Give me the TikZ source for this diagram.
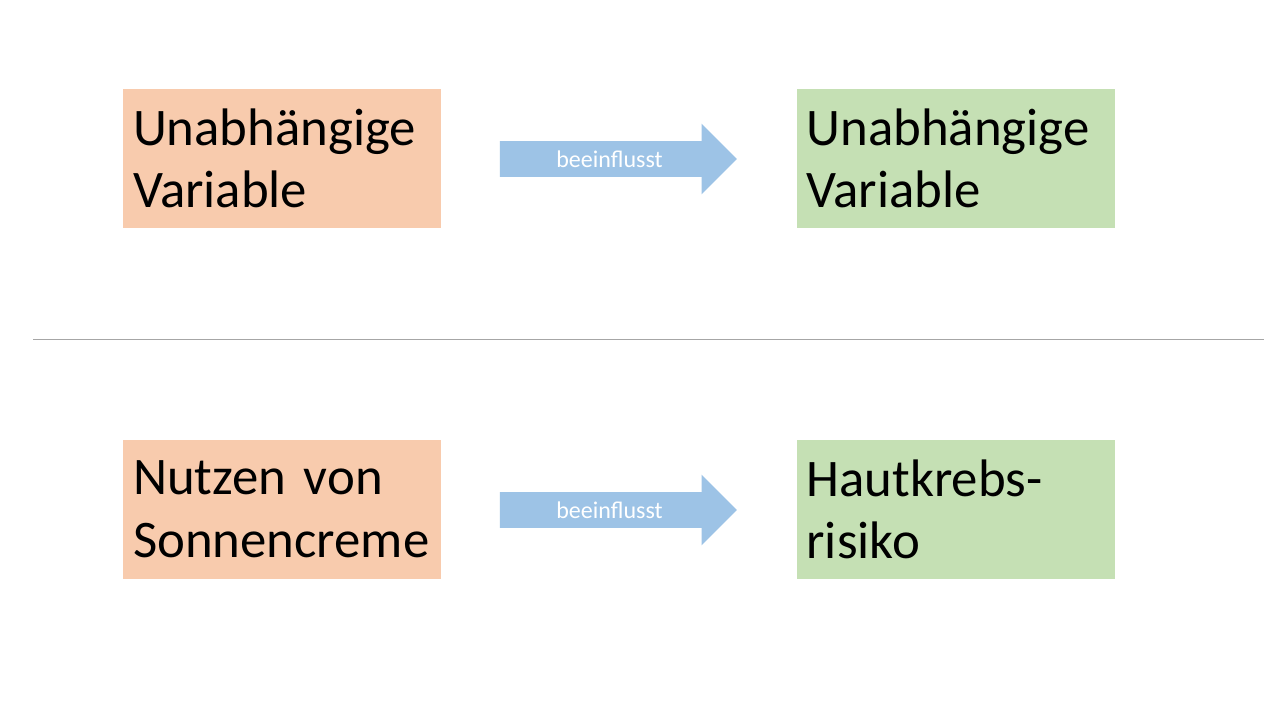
\documentclass[tikz,border=0pt]{standalone}
\usepackage{fontspec}
\setmainfont{Carlito}
\usetikzlibrary{shapes.arrows}
\definecolor{boxorange}{HTML}{F8CBAD}
\definecolor{boxgreen}{HTML}{C5E0B4}
\definecolor{arrowblue}{HTML}{9DC3E6}
\definecolor{linegray}{HTML}{A6A6A6}
\begin{document}
\begin{tikzpicture}[x=0.75pt,y=-0.75pt,
  varbox/.style={minimum width=238.5pt,minimum height=104.25pt,inner xsep=7.5pt,inner ysep=0pt,
    text width=223.5pt,align=left,font=\fontsize{39.6}{47}\selectfont,text=black},
  indep/.style={varbox,fill=boxorange},
  dep/.style={varbox,fill=boxgreen},
  blockarrow/.style={single arrow,fill=arrowblue,single arrow head extend=13.125pt,
    single arrow tip angle=90,minimum height=177.75pt,inner xsep=2pt,inner ysep=0pt,
    text height=19.5pt,text depth=6.75pt,text=white,font=\fontsize{18}{20}\selectfont},
  sepline/.style={draw=linegray,line width=0.75pt}]
\useasboundingbox (0,0) rectangle (1280,720);
\fill[white] (0,0) rectangle (1280,720);
\node[indep] (a) at (282,158.5) {Unabhängige\\Variable};
\node[dep] (b) at (955.5,158.5) {Unabhängige\\Variable};
\node[blockarrow] (ab) at (609.5,159) {beeinflusst};
\coordinate (l1) at (33,339);
\coordinate (l2) at (1264,339);
\draw[sepline] (l1) -- (l2);
\node[indep] (c) at (282,509.5) {Nutzen von\\Sonnencreme};
\node[dep] (d) at (955.5,509.5) {Hautkrebs-\\risiko};
\node[blockarrow] (cd) at (609.5,510) {beeinflusst};
\end{tikzpicture}
\end{document}
